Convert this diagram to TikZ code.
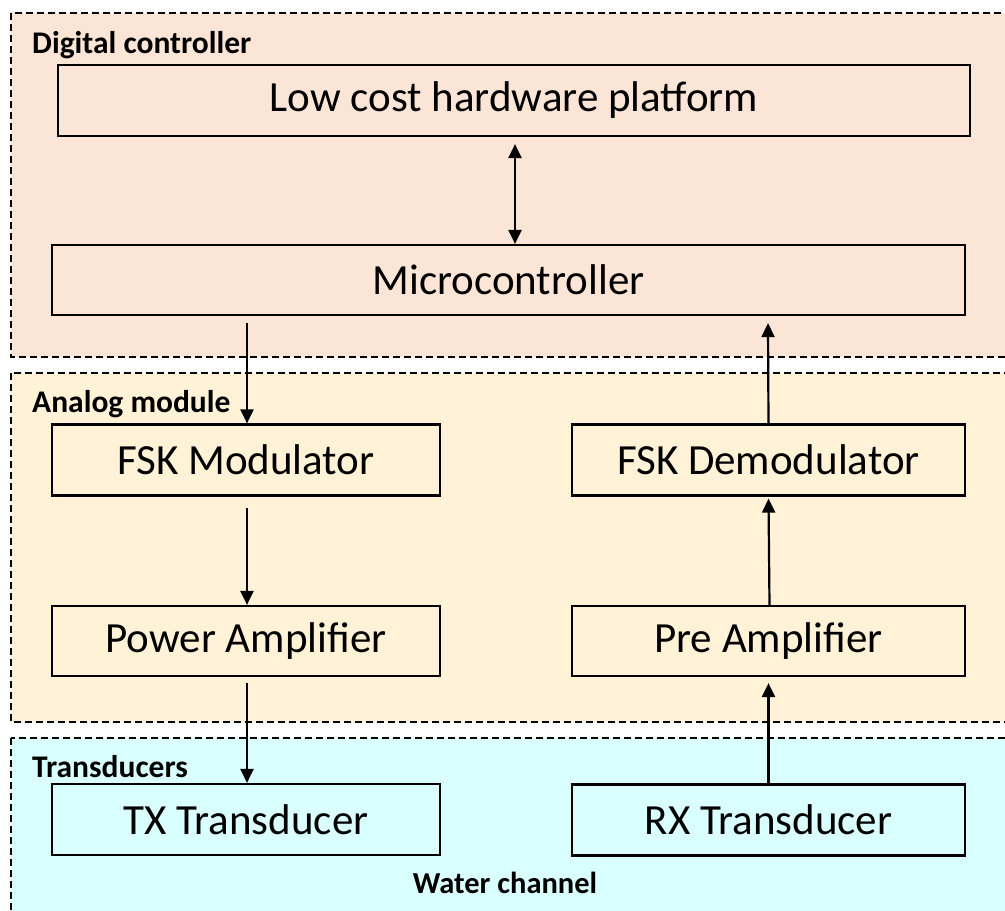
\documentclass[tikz,border=0pt]{standalone}
\usepackage{fontspec}
\setmainfont{Carlito}
\usetikzlibrary{arrows.meta}
\definecolor{digfill}{HTML}{FBE5D6}
\definecolor{anafill}{HTML}{FFF2D6}
\definecolor{trafill}{HTML}{DAFFFF}
\tikzset{
  x=1pt, y=-1pt,
  region/.style={draw=black, line width=2.2pt, dash pattern=on 7pt off 4pt},
  box/.style={draw=black, line width=2.2pt, rectangle, inner sep=0pt, font=\fontsize{43}{50}\selectfont},
  grouplabel/.style={anchor=base west, inner sep=0pt, font=\fontsize{31.5}{36}\selectfont\bfseries},
  conn/.style={line width=2.2pt, -{Triangle[width=13pt,length=14pt]}},
  dconn/.style={line width=2.2pt, {Triangle[width=13pt,length=14pt]}-{Triangle[width=13pt,length=14pt]}}
}
\begin{document}
\begin{tikzpicture}
\useasboundingbox (0,0) rectangle (1005,911);
\clip (0,0) rectangle (1005,911);
% regions
\fill[digfill] (11,13) rectangle (1020,357);
\draw[region] (11,13) rectangle (1020,357);
\fill[anafill] (11,373) rectangle (1020,722);
\draw[region] (11,373) rectangle (1020,722);
\fill[trafill] (11,738) rectangle (1020,930);
\draw[region] (11,738) rectangle (1020,930);
% group labels
\node[grouplabel] (lbldig) at (32,53) {Digital controller};
\node[grouplabel] (lblana) at (32,412) {Analog module};
\node[grouplabel] (lbltra) at (32,777) {Transducers};
\node[anchor=base, inner sep=0pt, font=\fontsize{30.5}{36}\selectfont\bfseries] (lblwat) at (505,893) {Water channel};
% boxes
\node[box, minimum width=912pt, minimum height=71pt] (hw) at (514,100.5) {Low cost hardware platform};
\node[box, minimum width=913pt, minimum height=70pt] (mcu) at (508.5,280) {Microcontroller};
\node[box, minimum width=388pt, minimum height=71pt] (mod) at (246,460) {FSK Modulator};
\node[box, minimum width=393pt, minimum height=71pt] (demod) at (768.5,460) {FSK Demodulator};
\node[box, minimum width=388pt, minimum height=70pt] (pa) at (246,641) {Power Amplifier};
\node[box, minimum width=393pt, minimum height=70pt] (pre) at (768.5,641) {Pre Amplifier};
\node[box, minimum width=388pt, minimum height=71pt] (tx) at (246,819.5) {TX Transducer};
\node[box, minimum width=393pt, minimum height=71pt] (rx) at (768.5,820) {RX Transducer};
% connectors
\draw[dconn] ([xshift=1pt,yshift=-7pt]hw.south) -- ([xshift=6.5pt]mcu.north);
\draw[conn] ([xshift=-261.5pt,yshift=-7pt]mcu.south) -- ([xshift=1pt]mod.north);
\draw[conn] ([xshift=1pt,yshift=-11pt]mod.south) -- ([xshift=1pt]pa.north);
\draw[conn] ([xshift=1pt,yshift=-6pt]pa.south) -- ([xshift=1pt]tx.north);
\draw[conn] (rx.north) -- ([yshift=-6pt]pre.south);
\draw[conn] ([xshift=1pt]pre.north) -- ([yshift=-2pt]demod.south);
\draw[conn] (demod.north) -- ([xshift=259.5pt,yshift=-7pt]mcu.south);
\end{tikzpicture}
\end{document}
